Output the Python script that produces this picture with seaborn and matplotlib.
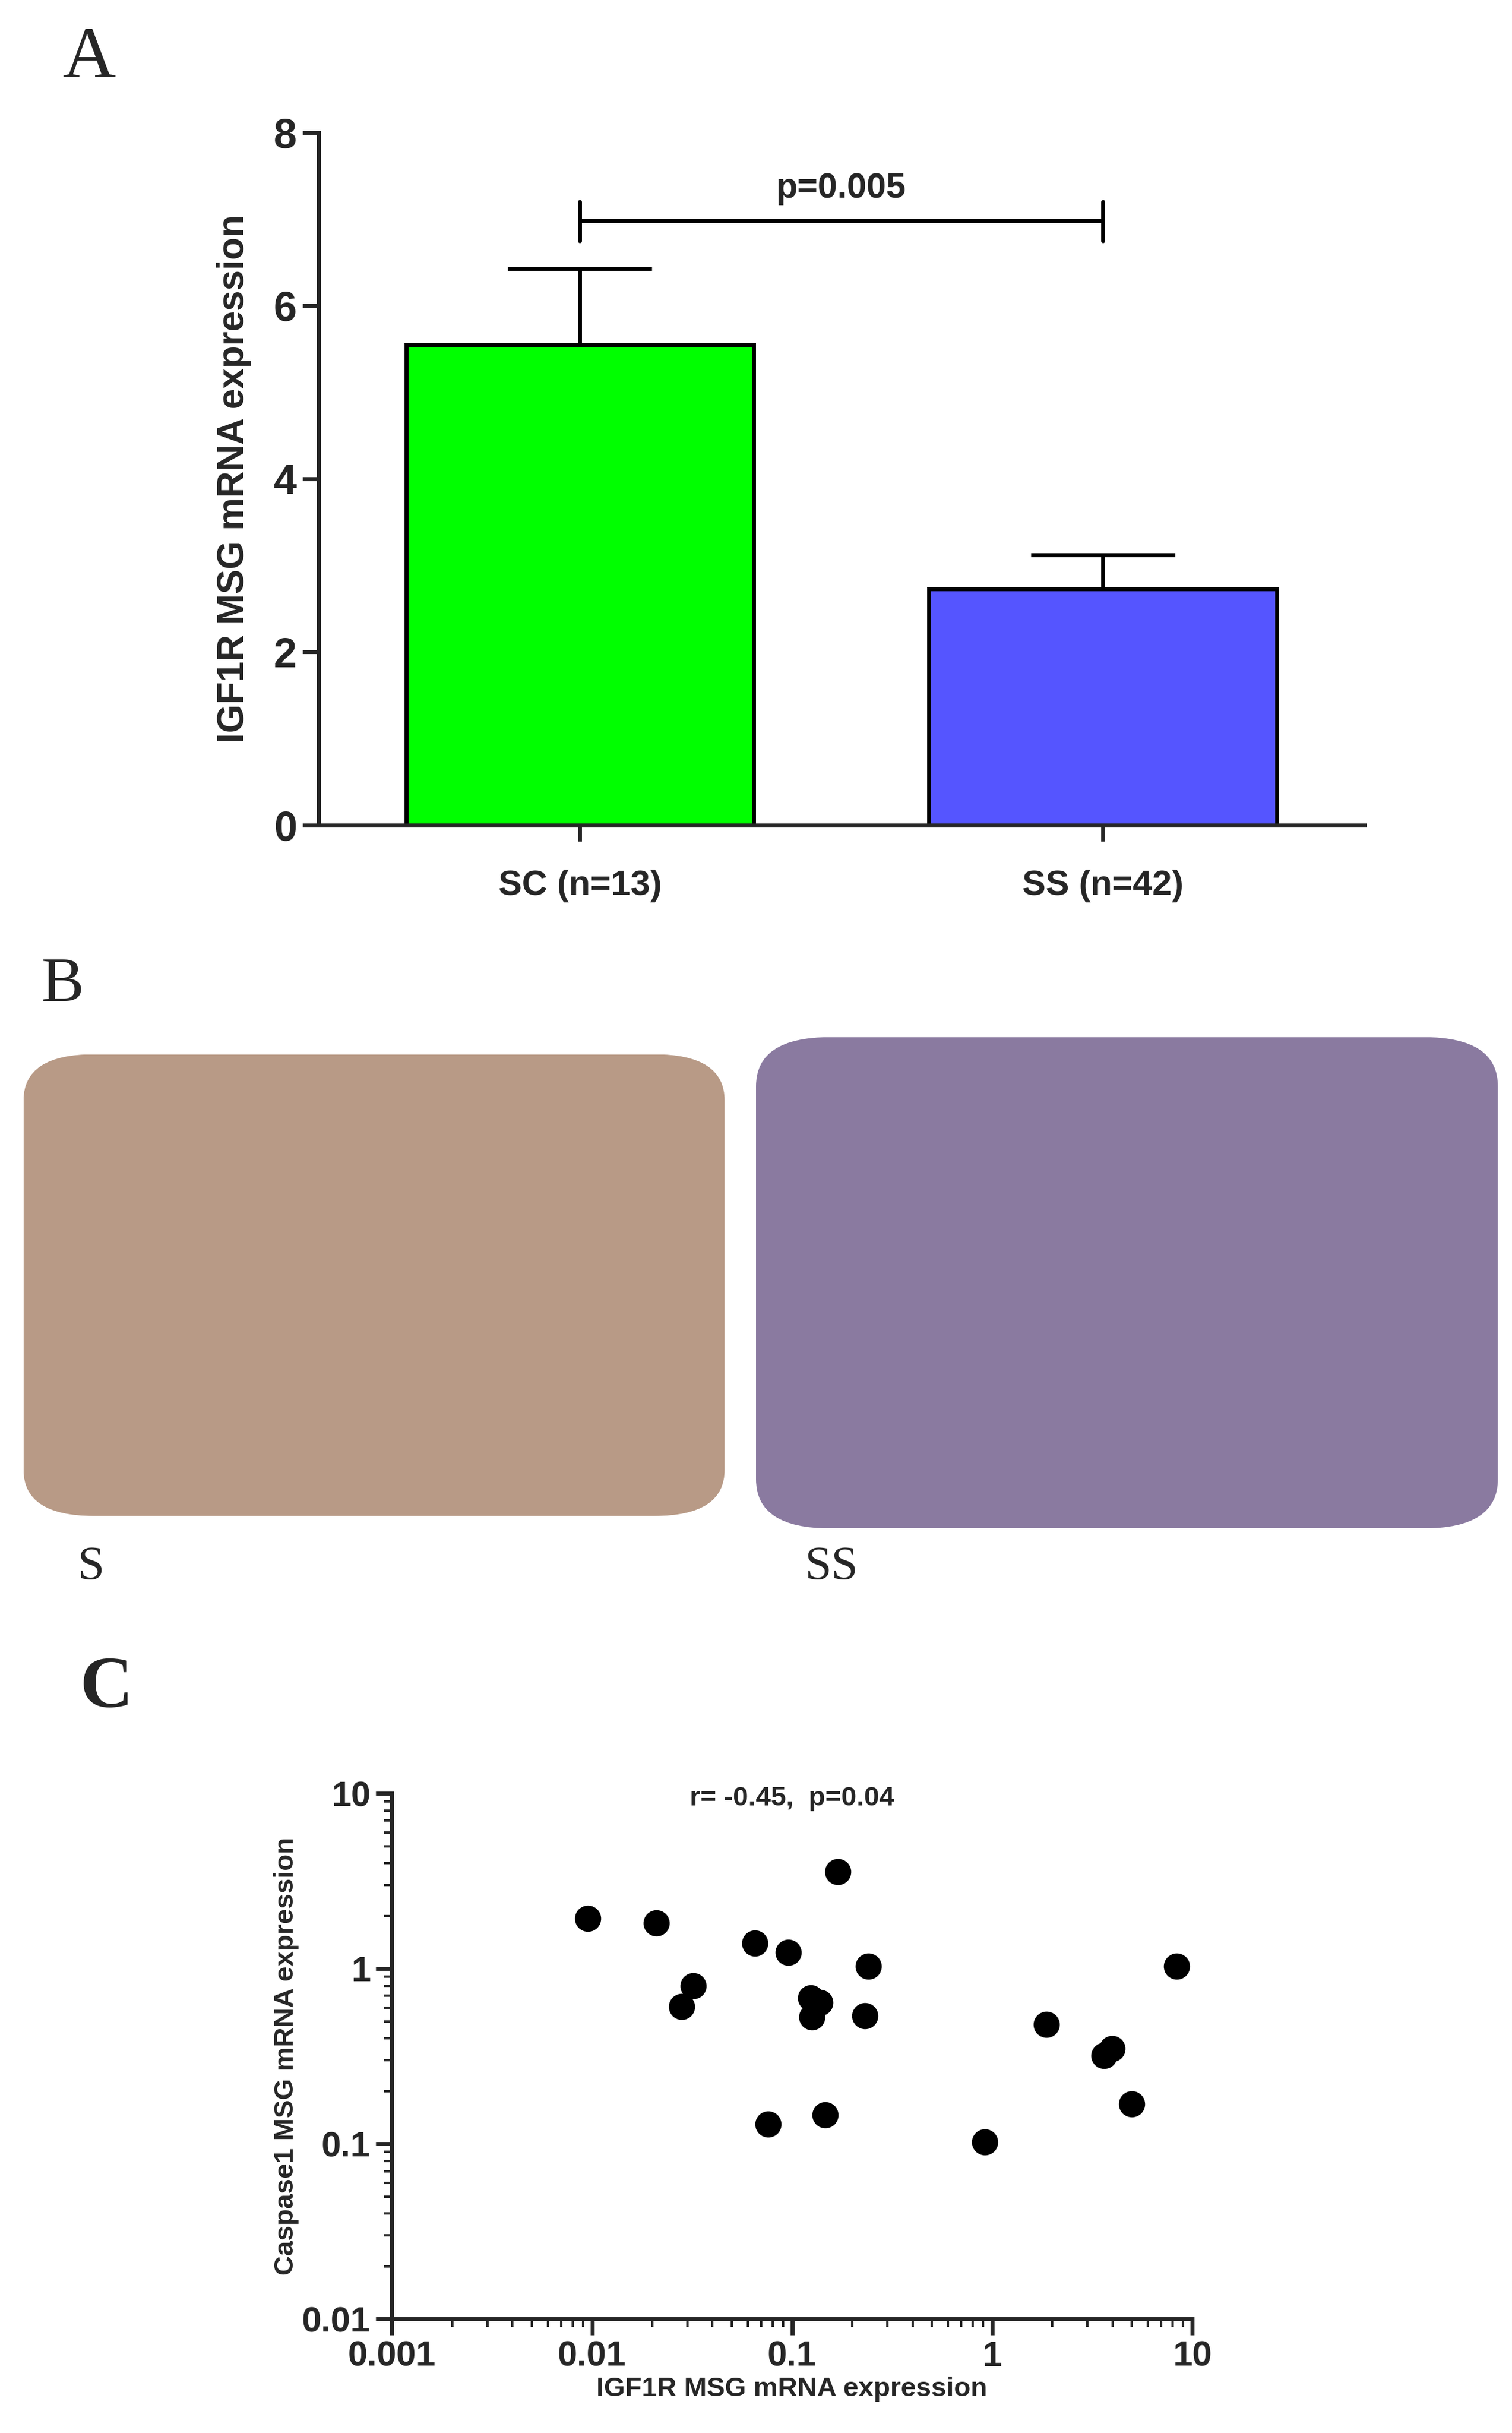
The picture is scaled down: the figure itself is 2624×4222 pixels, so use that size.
import matplotlib
matplotlib.use("Agg")
import matplotlib.pyplot as plt
import seaborn as sns
import numpy as np
import pandas as pd
from matplotlib.patches import FancyBboxPatch

sns.set_style("ticks")
plt.rcParams['font.family'] = ['Liberation Sans', 'DejaVu Sans']

groups = ["SC (n=13)", "SS (n=42)"]
means = [5.55, 2.73]
sems = [0.88, 0.39]
bar_colors = ["#00ff00", "#5555ff"]

igf1r = [0.0095, 0.021, 0.028, 0.032, 0.065, 0.076, 0.096, 0.124, 0.126, 0.138,
         0.146, 0.169, 0.24, 0.232, 0.92, 1.87, 3.63, 3.98, 5.0, 8.4]
casp1 = [1.94, 1.83, 0.61, 0.80, 1.40, 0.13, 1.24, 0.68, 0.53, 0.64,
         0.146, 3.59, 1.03, 0.54, 0.103, 0.48, 0.32, 0.35, 0.169, 1.03]

PW, PH = 964, 1560
W, H = 2624/200, 4222/200
fig = plt.figure(figsize=(W, H), dpi=200)

def rect(x0, y0, x1, y1):
    return [x0/PW, 1-y1/PH, (x1-x0)/PW, (y1-y0)/PH]

# Panel A
axA = fig.add_axes(rect(203, 85, 870, 529))
dfA = pd.DataFrame({"g": groups, "m": means})
sns.barplot(data=dfA, x="g", y="m", hue="g", palette=bar_colors, width=0.665, saturation=1,
            edgecolor="black", linewidth=2.5, ax=axA, legend=False)
for i, (m, s) in enumerate(zip(means, sems)):
    axA.errorbar(i, m, yerr=[[0], [s]], color="black", capsize=45, elinewidth=2.5, capthick=2.5)
axA.set_xlim(-0.5, 1.5)
axA.set_ylim(0, 8)
axA.set_yticks([0, 2, 4, 6, 8])
axA.set_xlabel("")
axA.set_ylabel("IGF1R MSG mRNA expression", fontsize=23, fontweight="bold", labelpad=14)
axA.tick_params(axis="y", labelsize=26, width=2.5, length=10)
axA.tick_params(axis="x", labelsize=22, width=2.5, length=10, pad=18)
for l in axA.get_yticklabels() + axA.get_xticklabels():
    l.set_fontweight("bold")
sns.despine(ax=axA)
for sp in ["left", "bottom"]:
    axA.spines[sp].set_linewidth(2.5)
axA.plot([0, 0], [6.75, 7.2], color="black", lw=2.5, clip_on=False)
axA.plot([1, 1], [6.75, 7.2], color="black", lw=2.5, clip_on=False)
axA.plot([0, 1], [6.98, 6.98], color="black", lw=2.5, clip_on=False)
axA.text(0.5, 7.35, "p=0.005", ha="center", va="center", fontsize=22, fontweight="bold")

# Panel B placeholders
for (x0, y0, x1, y1), col in [((15, 676, 462, 972), "#b89a86"), ((482, 665, 955, 980), "#8a7aa0")]:
    axb = fig.add_axes(rect(x0, y0, x1, y1))
    axb.set_xlim(0, 1); axb.set_ylim(0, 1); axb.axis("off")
    axb.add_patch(FancyBboxPatch((0.0, 0.0), 1.0, 1.0, boxstyle="round,pad=0,rounding_size=0.1",
                                 facecolor=col, edgecolor="none", mutation_aspect=1.0))

serif = ['Liberation Serif', 'DejaVu Serif']
fig.text(57/PW, 1-38/PH, "A", fontsize=46, family=serif, ha="center", va="center")
fig.text(40/PW, 1-632/PH, "B", fontsize=40, family=serif, ha="center", va="center")
fig.text(68/PW, 1-1083/PH, "C", fontsize=46, family=serif, ha="center", va="center", fontweight="bold")
fig.text(58/PW, 1-1005/PH, "S", fontsize=30, family=serif, ha="center", va="center")
fig.text(530/PW, 1-1005/PH, "SS", fontsize=30, family=serif, ha="center", va="center")

# Panel C
axC = fig.add_axes(rect(250, 1150, 760, 1487))
sns.scatterplot(x=igf1r, y=casp1, color="black", s=230, edgecolor="black", ax=axC)
axC.set_xscale("log"); axC.set_yscale("log")
axC.set_xlim(0.001, 10); axC.set_ylim(0.01, 10)
axC.set_xticks([0.001, 0.01, 0.1, 1, 10]); axC.set_xticklabels(["0.001", "0.01", "0.1", "1", "10"])
axC.set_yticks([0.01, 0.1, 1, 10]); axC.set_yticklabels(["0.01", "0.1", "1", "10"])
axC.tick_params(which="major", labelsize=22, width=2.5, length=10)
axC.tick_params(which="minor", width=1.5, length=5)
for l in axC.get_yticklabels() + axC.get_xticklabels():
    l.set_fontweight("bold")
axC.set_xlabel("IGF1R MSG mRNA expression", fontsize=17, fontweight="bold", labelpad=2)
axC.set_ylabel("Caspase1 MSG mRNA expression", fontsize=17, fontweight="bold", labelpad=2)
sns.despine(ax=axC)
for sp in ["left", "bottom"]:
    axC.spines[sp].set_linewidth(2.5)
axC.text(0.5, 0.99, "r= -0.45,  p=0.04", transform=axC.transAxes, ha="center", va="center",
         fontsize=17, fontweight="bold")

fig.savefig("out.png", dpi=200)
